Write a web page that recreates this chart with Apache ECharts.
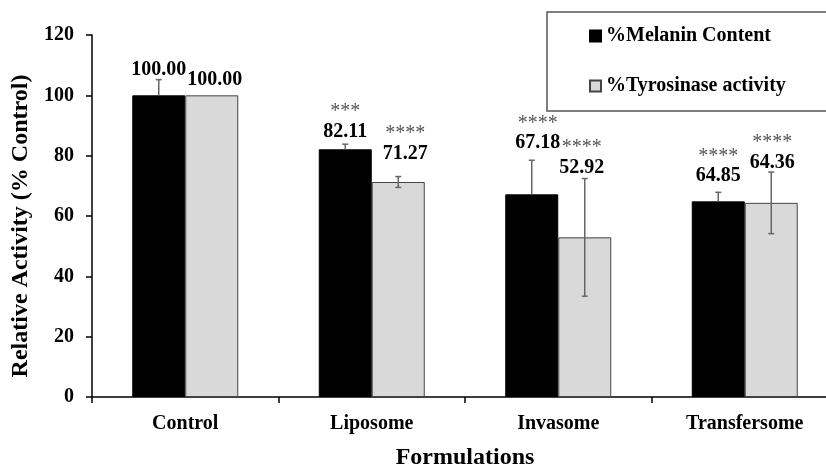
<!DOCTYPE html>
<html>
<head>
<meta charset="utf-8">
<script src="https://cdn.jsdelivr.net/npm/echarts@6/dist/echarts.min.js"></script>
<style>
	html,body{margin:0;padding:0;background:#fff;}
	#myChart{width:826px;height:467px;}
</style>
</head>
<body>
<div id="myChart"></div>
<script>
	// data
	var categories = ['Control', 'Liposome', 'Invasome', 'Transfersome'];
	var melanin = [100.00, 82.11, 67.18, 64.85];
	var melaninErr = [5.2, 1.7, 11.3, 3.0];
	var melaninStars = ['', '***', '****', '****'];
	var tyrosinase = [100.00, 71.27, 52.92, 64.36];
	var tyrosinaseErr = [0, 1.8, 19.5, 10.2];
	var tyrosinaseStars = ['', '****', '****', '****'];
	var yTicks = [0, 20, 40, 60, 80, 100, 120];

	// label nudges (px) so the value labels sit like the original
	var melaninNudge = [[0, 4], [0, 2], [6, -3], [0, -2]];
	var tyrosinaseNudge = [[3, -2], [7, -9], [-3, 3], [1, 5]];

	var FONT = '"Liberation Serif", "Times New Roman", serif';
	var BAR_W = 53;

	var myChart = echarts.init(document.getElementById('myChart'));

	function errSeries(name, vals, errs, stars, nudge, side, full, z) {
		var data = [];
		for (var i = 0; i < vals.length; i++) {
			data.push([i, vals[i], errs[i]]);
		}
		return {
			type: 'custom',
			name: name + '_err',
			z: z,
			silent: true,
			data: data,
			renderItem: function (params, api) {
				var i = api.value(0), v = api.value(1), e = api.value(2);
				var top = api.coord([i, v + e]);
				var mid = api.coord([i, v]);
				var bot = api.coord([i, v - e]);
				var x = mid[0] + side * BAR_W / 2;
				var children = [];
				if (e > 0) {
					var y2 = full ? bot[1] : mid[1];
					children.push({type: 'line', shape: {x1: x, y1: top[1], x2: x, y2: y2},
						style: {stroke: '#666', lineWidth: 1.5}});
					children.push({type: 'line', shape: {x1: x - 3, y1: top[1], x2: x + 3, y2: top[1]},
						style: {stroke: '#666', lineWidth: 1.5}});
					if (full) {
						children.push({type: 'line', shape: {x1: x - 3, y1: bot[1], x2: x + 3, y2: bot[1]},
							style: {stroke: '#666', lineWidth: 1.5}});
					}
				}
				var lx = x + nudge[i][0];
				var ly = top[1] - 14 + nudge[i][1];
				children.push({type: 'text', style: {x: lx, y: ly, text: v.toFixed(2),
					fill: '#000', font: 'bold 20px ' + FONT, align: 'center', verticalAlign: 'middle'}});
				if (stars[i]) {
					children.push({type: 'text', style: {x: lx, y: ly - 20, text: stars[i],
						fill: '#555', font: '20px ' + FONT, align: 'center', verticalAlign: 'middle'}});
				}
				return {type: 'group', children: children};
			}
		};
	}

	var option = {
		backgroundColor: '#fff',
		animation: false,
		textStyle: {fontFamily: FONT},
		grid: {left: 92, top: 35, width: 746, height: 362, outerBoundsMode: 'none', containLabel: false},
		legend: {
			orient: 'vertical',
			left: 547,
			top: 12,
			padding: [14, 70, 15, 42],
			itemGap: 30,
			itemWidth: 11,
			itemHeight: 11,
			borderColor: '#555',
			borderWidth: 1.5,
			data: [
				{name: '%Melanin Content', icon: 'rect'},
				{name: '%Tyrosinase activity', icon: 'rect'}
			],
			textStyle: {fontFamily: FONT, fontWeight: 'bold', fontSize: 20, color: '#000'}
		},
		xAxis: {
			type: 'category',
			data: categories,
			name: 'Formulations',
			nameLocation: 'middle',
			nameGap: 49,
			nameTextStyle: {fontFamily: FONT, fontWeight: 'bold', fontSize: 24, color: '#000'},
			axisLine: {lineStyle: {color: '#000', width: 1.5}},
			axisTick: {show: true, length: 6, lineStyle: {color: '#000', width: 1.5}},
			axisLabel: {margin: 17, fontFamily: FONT, fontWeight: 'bold', fontSize: 20, color: '#000'}
		},
		yAxis: {
			type: 'value',
			min: yTicks[0],
			max: yTicks[yTicks.length - 1],
			interval: 20,
			name: 'Relative Activity (% Control)',
			nameLocation: 'middle',
			nameGap: 55,
			nameTextStyle: {fontFamily: FONT, fontWeight: 'bold', fontSize: 24, color: '#000', padding: [0, 20, 0, 0]},
			axisLine: {show: true, lineStyle: {color: '#000', width: 1.5}},
			axisTick: {show: true, length: 6, lineStyle: {color: '#000', width: 1.5}},
			splitLine: {show: false},
			axisLabel: {margin: 18, fontFamily: FONT, fontWeight: 'bold', fontSize: 20, color: '#000'}
		},
		series: [
			{
				name: '%Melanin Content',
				type: 'bar',
				barWidth: BAR_W,
				barGap: 0,
				z: 3,
				data: melanin,
				itemStyle: {color: '#000', borderColor: '#000', borderWidth: 1}
			},
			{
				name: '%Tyrosinase activity',
				type: 'bar',
				barWidth: BAR_W,
				barGap: 0,
				z: 3,
				data: tyrosinase,
				itemStyle: {color: '#d9d9d9', borderColor: '#444', borderWidth: 1}
			},
			errSeries('%Melanin Content', melanin, melaninErr, melaninStars, melaninNudge, -1, false, 4),
			errSeries('%Tyrosinase activity', tyrosinase, tyrosinaseErr, tyrosinaseStars, tyrosinaseNudge, 1, true, 4)
		]
	};
	myChart.setOption(option);
</script>
</body>
</html>
